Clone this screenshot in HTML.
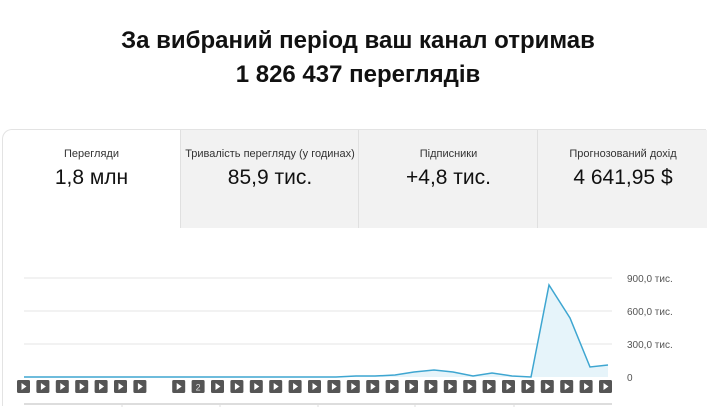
<!DOCTYPE html>
<html><head><meta charset="utf-8"><style>
html,body{margin:0;width:707px;height:407px;overflow:hidden}
body{background:#fff;font-family:"Liberation Sans",sans-serif;position:relative}
.t{position:absolute;left:0;width:716px;text-align:center;font-weight:bold;font-size:24px;color:#111}
.card{position:absolute;left:2px;top:129px;width:703px;height:276px;border:1px solid #e3e3e3;border-bottom:none;border-right:none;border-radius:10px 0 0 0}
.tab{position:absolute;top:130px;height:98px;text-align:center;background:#f2f2f2;border-left:1px solid #e0e0e0}
.tab .a{font-size:11px;color:#333;margin-top:18px}
.tab .b{font-size:21px;color:#111;margin-top:6px}
</style></head><body>
<div class="t" style="top:27px">За вибраний період ваш канал отримав</div>
<div class="t" style="top:61px">1 826 437 переглядів</div>
<div class="card"></div>
<div class="tab" style="left:3px;width:177px;background:#fff;border:none;border-radius:10px 0 0 0"><div class="a">Перегляди</div><div class="b">1,8 млн</div></div>
<div class="tab" style="left:180px;width:178px"><div class="a">Тривалість перегляду (у годинах)</div><div class="b">85,9 тис.</div></div>
<div class="tab" style="left:358px;width:179px"><div class="a">Підписники</div><div class="b">+4,8 тис.</div></div>
<div class="tab" style="left:537px;width:170px"><div class="a">Прогнозований дохід</div><div class="b">4 641,95 $</div></div>
<svg width="707" height="407" style="position:absolute;left:0;top:0">
<g stroke="#e6e6e6"><line x1="24" x2="612" y1="278" y2="278"/><line x1="24" x2="612" y1="311" y2="311"/><line x1="24" x2="612" y1="344" y2="344"/></g>
<g font-size="10" fill="#555" font-family="Liberation Sans"><text x="627" y="282">900,0 тис.</text><text x="627" y="315">600,0 тис.</text><text x="627" y="348">300,0 тис.</text><text x="627" y="381">0</text></g>
<polygon points="24,377 336,377 356,376 375,376 395,375 414,372 434,370 453,372 473,376 492,373 512,376 531,377 549,285 570,318 590,367 608,365 608,377" fill="#e6f4fa"/>
<polyline points="24,377 336,377 356,376 375,376 395,375 414,372 434,370 453,372 473,376 492,373 512,376 531,377 549,285 570,318 590,367 608,365" fill="none" stroke="#3ea6d1" stroke-width="1.5"/>
<line x1="24" x2="612" y1="404" y2="404" stroke="#bbb"/>
<g stroke="#ddd"><line x1="122" x2="122" y1="404" y2="407"/><line x1="220" x2="220" y1="404" y2="407"/><line x1="318" x2="318" y1="404" y2="407"/><line x1="415" x2="415" y1="404" y2="407"/><line x1="514" x2="514" y1="404" y2="407"/></g>
<g id="ic">
</g>
</svg>
<script>
var g=document.getElementById('ic'),s='';
for(var k=0;k<31;k++){if(k==7)continue;var x=17+k*19.4;
s+='<rect x="'+x+'" y="380" width="13" height="13" rx="1.5" fill="#555"/>';
if(k==9)s+='<text x="'+(x+6.5)+'" y="390.5" font-size="9" fill="#ddd" text-anchor="middle" font-family="Liberation Sans">2</text>';
else s+='<polygon points="'+(x+4.5)+',383 '+(x+4.5)+',390 '+(x+9.5)+',386.5" fill="#fff"/>';}
g.innerHTML=s;
</script>
</body></html>
